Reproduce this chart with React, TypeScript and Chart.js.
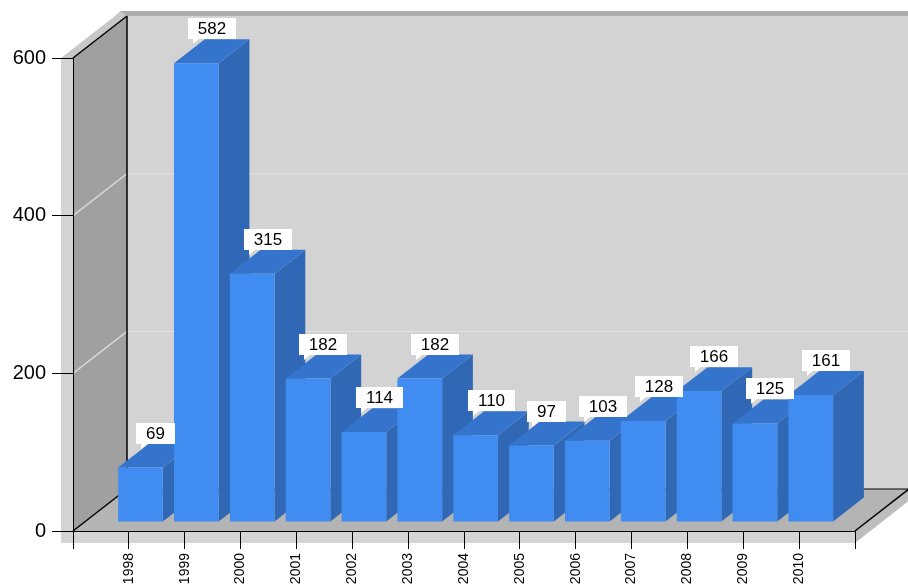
import React, { useEffect, useRef } from 'react';
import { Chart, registerables } from 'chart.js';

Chart.register(...registerables);

// ---- data ----
const years = [1998, 1999, 2000, 2001, 2002, 2003, 2004, 2005, 2006, 2007, 2008, 2009, 2010];
const values = [69, 582, 315, 182, 114, 182, 110, 97, 103, 128, 166, 125, 161];
const yTicks = [0, 200, 400, 600];
const xMin = 1997;
const xMax = 2011;

// ---- style ----
const FONT = '"Liberation Sans", Arial, sans-serif';
const FRONT = '#418CF0';
const SIDE = '#3068B5';
const TOP = '#3574CC';
const DEPTH_X = 54;
const DEPTH_Y = -42;
const FRONT_GAP = 0.215;
const BAR_DEPTH = 0.57;
const WALL_T = 12;
const BACK_TX = 6;
const BACK_TY = -5;

type Pt = [number, number];

function poly(ctx: CanvasRenderingContext2D, pts: Pt[], fill: string) {
  ctx.beginPath();
  ctx.moveTo(pts[0][0], pts[0][1]);
  for (let i = 1; i < pts.length; i++) ctx.lineTo(pts[i][0], pts[i][1]);
  ctx.closePath();
  ctx.fillStyle = fill;
  ctx.fill();
}

function line(ctx: CanvasRenderingContext2D, a: Pt, b: Pt, color: string, w: number) {
  ctx.beginPath();
  ctx.moveTo(a[0], a[1]);
  ctx.lineTo(b[0], b[1]);
  ctx.strokeStyle = color;
  ctx.lineWidth = w;
  ctx.stroke();
}

const threeD = {
  id: 'threeD',
  beforeDraw(chart: any) {
    const { ctx, chartArea, scales } = chart;
    const L = chartArea.left, R = chartArea.right, T = chartArea.top, B = chartArea.bottom;
    const dx = DEPTH_X, dy = DEPTH_Y, t = WALL_T;
    ctx.save();
    // back wall top thickness
    poly(ctx, [[L + dx, T + dy], [R + dx, T + dy], [R + dx + BACK_TX, T + dy + BACK_TY], [L - t + dx + BACK_TX, T + dy + BACK_TY], [L - t + dx, T + dy]], '#ADADAD');
    // left wall top thickness
    poly(ctx, [[L - t, T], [L, T], [L + dx, T + dy], [L - t + dx + BACK_TX, T + dy + BACK_TY], [L - t + dx, T + dy]], '#C8C8C8');
    // back wall
    poly(ctx, [[L + dx, T + dy], [R + dx, T + dy], [R + dx, B + dy], [L + dx, B + dy]], '#D3D3D3');
    // left wall thickness front
    poly(ctx, [[L - t, T], [L, T], [L, B + t], [L - t, B + t]], '#D4D4D4');
    // floor front thickness
    poly(ctx, [[L - t, B], [R, B], [R, B + t], [L - t, B + t]], '#D4D4D4');
    // floor right thickness
    poly(ctx, [[R, B], [R + dx + BACK_TX, B + dy + BACK_TY], [R + dx + BACK_TX, B + dy + BACK_TY + t], [R, B + t]], '#BDBDBD');
    // left wall inner face
    poly(ctx, [[L, T], [L + dx, T + dy], [L + dx, B + dy], [L, B]], '#A0A0A0');
    // floor
    poly(ctx, [[L, B], [R, B], [R + dx, B + dy], [L + dx, B + dy]], '#B4B4B4');
    // gridlines
    const y = scales.y;
    yTicks.forEach((v) => {
      if (v === yTicks[0] || v === yTicks[yTicks.length - 1]) return;
      const py = y.getPixelForValue(v);
      line(ctx, [L, py], [L + dx, py + dy], '#D6D6D6', 1.5);
      line(ctx, [L + dx, py + dy], [R + dx, py + dy], '#E2E2E2', 1);
    });
    // edges
    line(ctx, [L, T], [L + dx, T + dy], '#000', 1.5);
    line(ctx, [L + dx, T + dy], [L + dx, B + dy], '#000', 1.5);
    line(ctx, [L, B], [L + dx, B + dy], '#000', 1.5);
    line(ctx, [R, B], [R + dx, B + dy], '#000', 1.5);
    line(ctx, [L + dx, B + dy], [R + dx, B + dy], '#000', 1);
    ctx.restore();
  },
  beforeDatasetsDraw(chart: any) {
    const { ctx } = chart;
    const fx = DEPTH_X * FRONT_GAP, fy = DEPTH_Y * FRONT_GAP;
    const bx = DEPTH_X * BAR_DEPTH, by = DEPTH_Y * BAR_DEPTH;
    const meta = chart.getDatasetMeta(0);
    ctx.save();
    meta.data.forEach((el: any) => {
      const p = el.getProps(['x', 'y', 'base', 'width'], true);
      const l = p.x - p.width / 2 + fx, r = p.x + p.width / 2 + fx;
      const tp = p.y + fy, b = p.base + fy;
      poly(ctx, [[r, tp], [r + bx, tp + by], [r + bx, b + by], [r, b]], SIDE);
      poly(ctx, [[l, tp], [r, tp], [r + bx, tp + by], [l + bx, tp + by]], TOP);
    });
    ctx.restore();
  },
  beforeDatasetDraw(chart: any) {
    chart.ctx.save();
    chart.ctx.translate(DEPTH_X * FRONT_GAP, DEPTH_Y * FRONT_GAP);
  },
  afterDatasetDraw(chart: any) {
    chart.ctx.restore();
  },
  afterDatasetsDraw(chart: any) {
    const { ctx } = chart;
    const fx = DEPTH_X * FRONT_GAP, fy = DEPTH_Y * FRONT_GAP;
    const bx = DEPTH_X * BAR_DEPTH, by = DEPTH_Y * BAR_DEPTH;
    const meta = chart.getDatasetMeta(0);
    ctx.save();
    ctx.font = '17px ' + FONT;
    ctx.textAlign = 'center';
    ctx.textBaseline = 'middle';
    meta.data.forEach((el: any, i: number) => {
      const p = el.getProps(['x', 'y'], true);
      const text = String(values[i]);
      const cx = p.x + fx + bx / 2;
      const bottom = p.y + fy + by;
      const w = Math.round(ctx.measureText(text).width + 20);
      const h = 21;
      const left = Math.round(cx - w / 2);
      const top = Math.round(bottom - h);
      ctx.fillStyle = '#FFFFFF';
      ctx.fillRect(left, top, w, h);
      poly(ctx, [[left + 5, top + h], [left + 11, top + h], [left + 5, top + h + 5]], '#FFFFFF');
      ctx.fillStyle = '#000000';
      ctx.fillText(text, left + w / 2, top + h / 2 + 1);
    });
    ctx.restore();
  },
};

export default function App() {
  const ref = useRef<HTMLCanvasElement>(null);
  useEffect(() => {
    const canvas = ref.current;
    if (!canvas) return;
    const chart = new Chart(canvas, {
      type: 'bar',
      data: {
        datasets: [
          {
            data: years.map((yr, i) => ({ x: yr, y: values[i] })),
            backgroundColor: FRONT,
            borderWidth: 0,
            categoryPercentage: 1,
            barPercentage: 0.8,
            clip: false as any,
          },
        ],
      },
      options: {
        animation: false,
        responsive: false,
        devicePixelRatio: 1,
        events: [],
        layout: { padding: { top: 58, right: 53, left: 0, bottom: 0 } },
        plugins: { legend: { display: false }, tooltip: { enabled: false } },
        scales: {
          x: {
            type: 'linear',
            min: xMin,
            max: xMax,
            offset: false,
            afterFit: (s: any) => { s.height = 55; },
            ticks: {
              stepSize: 1,
              autoSkip: false,
              minRotation: 90,
              maxRotation: 90,
              padding: 4,
              color: '#000',
              font: { family: FONT, size: 14 },
              callback: (v: any) => (v === xMin || v === xMax ? '' : String(v)),
            },
            grid: { offset: false, drawOnChartArea: false, drawTicks: true, tickLength: 18, color: '#000', lineWidth: 1 },
            border: { display: true, color: '#000', width: 1 },
          },
          y: {
            type: 'linear',
            min: yTicks[0],
            max: yTicks[yTicks.length - 1],
            afterFit: (s: any) => { s.width = 73; },
            afterBuildTicks: (s: any) => { s.ticks = yTicks.map((v) => ({ value: v })); },
            ticks: {
              padding: 6,
              color: '#000',
              font: { family: FONT, size: 20 },
            },
            grid: { drawOnChartArea: false, drawTicks: true, tickLength: 21, color: '#000', lineWidth: 1 },
            border: { display: true, color: '#000', width: 1 },
          },
        },
      },
      plugins: [threeD],
    } as any);
    return () => chart.destroy();
  }, []);
  return (
    <div style={{ position: 'absolute', left: 0, top: 0, width: 908, height: 586 }}>
      <canvas ref={ref} width={908} height={586} style={{ display: 'block' }} />
    </div>
  );
}
